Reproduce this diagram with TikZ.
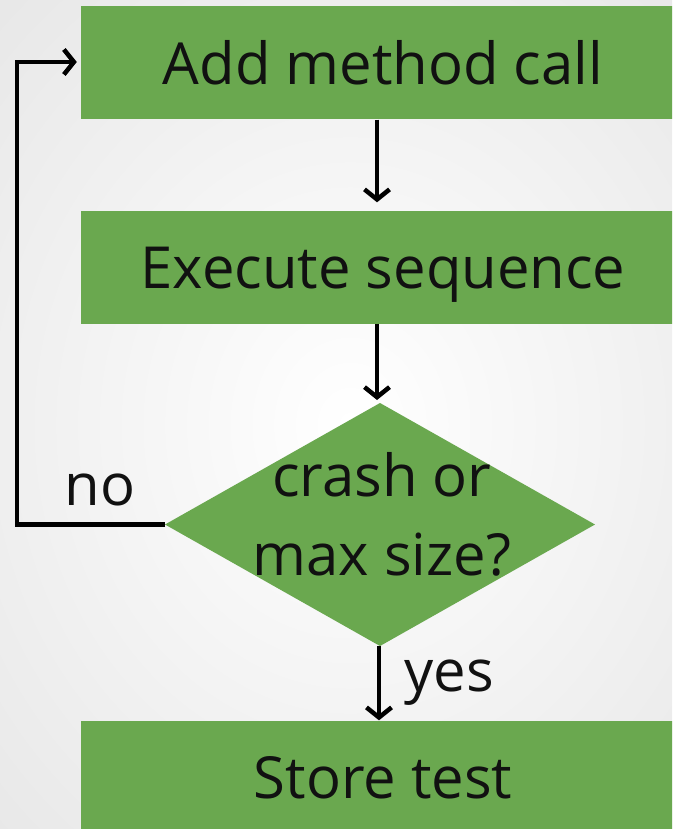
\documentclass[tikz,border=0pt]{standalone}
\usepackage{fontspec}
\setmainfont{Open Sans}
\usetikzlibrary{arrows.meta}

\definecolor{boxgreen}{HTML}{6AA84F}
\definecolor{ink}{HTML}{111111}

\tikzset{
	stepbox/.style={rectangle, fill=boxgreen, minimum width=604pt, minimum height=113pt, inner sep=0pt, text=ink, text height=43pt, text depth=0pt},
	flow/.style={line width=4.5pt, -{Straight Barb[length=10pt,width=25pt]}},
	lbl/.style={text=ink}
}

\begin{document}
\begin{tikzpicture}[x=1pt,y=-1pt,font=\fontsize{58}{79}\selectfont]
	\useasboundingbox (0,0) rectangle (672,829);
	\clip (0,0) rectangle (672,829);
	\shade[inner color=white, outer color=black!9] (-150,-150) rectangle (850,1000);
	% boxes
	\node[stepbox] (add) at (383,63) {Add method call};
	\node[stepbox] (exec) at (383,267) {Execute sequence};
	\node[stepbox] (store) at (383,777) {Store test};
	% decision
	\coordinate (dtop) at (380,403);
	\coordinate (dleft) at (165,524.5);
	\coordinate (dbot) at (380,646);
	\coordinate (dright) at (595,524.5);
	\fill[boxgreen] (dtop) -- (dright) -- (dbot) -- (dleft) -- cycle;
	\node[text=ink, align=center, anchor=base] (check) at (382,575) {crash or\\max size?};
	% arrows
	\draw[flow, shorten >=8pt] (add.south -| 377,0) -- (exec.north -| 377,0);
	\draw[flow, shorten >=3pt] (exec.south -| 377,0) -- (377,403);
	\draw[flow] (dbot -| 379,0) -- (store.north -| 379,0);
	\draw[flow, shorten >=4pt] (dleft) -- (17,524.5) -- (17,62) -- (add.west |- 0,62);
	\node[lbl] (no) at (100,490) {no};
	\node[lbl] (yes) at (449,683) {yes};
\end{tikzpicture}
\end{document}
